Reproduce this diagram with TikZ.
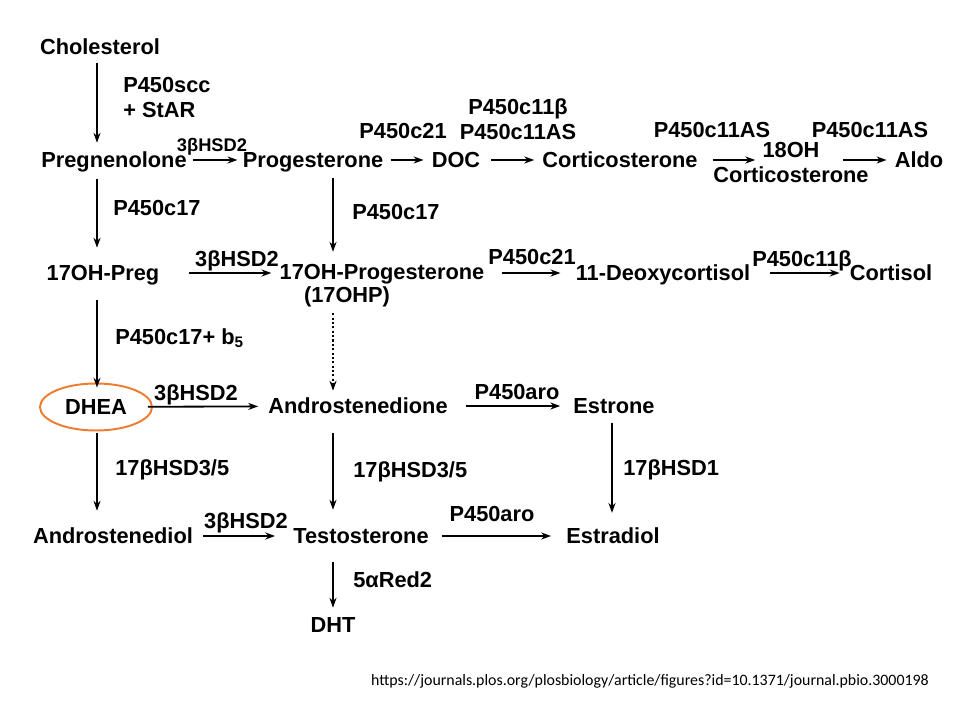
\documentclass[tikz,border=0pt]{standalone}
\usepackage{fontspec}
\setmainfont{Liberation Sans}
\newfontfamily\urlfont{Carlito}
\usetikzlibrary{arrows.meta,shapes.geometric}
\definecolor{ringorange}{RGB}{237,125,49}

\begin{document}
\begin{tikzpicture}[x=0.025cm, y=-0.025cm, >={Stealth[length=7pt,width=5pt]},
  every node/.style={inner sep=0pt, text height=12.2pt, text depth=2pt, font=\bfseries\fontsize{15.5}{18.5}\selectfont},
  lab/.style={anchor=west},
  rx/.style={->, line width=1.3pt},
  dotrx/.style={->, line width=1.5pt, dash pattern=on 1.5pt off 1.6pt},
  ring/.style={ellipse, draw=ringorange, line width=1.4pt, minimum width=2.8cm, minimum height=1.175cm}]
  \useasboundingbox (0,0) rectangle (960,720);
  \coordinate (c1) at (97,0); \coordinate (c2) at (333,0); \coordinate (c3) at (612,0);
  % steroids
  \node (chol) at (100,47) {Cholesterol};
  \node (preg) at (114,160) {Pregnenolone}; \node (prog) at (313,160) {Progesterone};
  \node (doc) at (456,160) {DOC}; \node (cort) at (620,160) {Corticosterone};
  \node (oh18a) at (791,150) {18OH}; \node (oh18b) at (791,175) {Corticosterone};
  \node (aldo) at (919,160) {Aldo};
  \node (ohpreg) at (103,273) {17OH-Preg}; \node (ohprog) at (382,272) {17OH-Progesterone};
  \node (ohpb) at (347,295) {(17OHP)};
  \node (deoxy) at (663,273) {11-Deoxycortisol}; \node (cortisol) at (891,273) {Cortisol};
  \node[ring] (dhea) at (96,407) {DHEA}; \node (andro) at (358,406) {Androstenedione};
  \node (estrone) at (614,406) {Estrone};
  \node (adiol) at (113,536) {Androstenediol}; \node (testo) at (361,536) {Testosterone};
  \node (estradiol) at (613,536) {Estradiol};
  \node (dht) at (333,625) {DHT};
  % enzymes
  \node[lab] (e1a) at (123,85) {P450scc}; \node[lab] (e1b) at (123,110) {+ StAR};
  \node[font=\bfseries\fontsize{13}{15}\selectfont] (e2) at (212,144) {3βHSD2};
  \node (e3) at (403,131) {P450c21};
  \node (e4a) at (518,107) {P450c11β}; \node (e4b) at (518,132) {P450c11AS};
  \node (e5) at (712,130) {P450c11AS}; \node (e6) at (870,130) {P450c11AS};
  \node[lab] (e7) at (113,208) {P450c17}; \node[lab] (e8) at (352,212) {P450c17};
  \node (e9) at (237,259) {3βHSD2}; \node (e10) at (532,257) {P450c21};
  \node (e11) at (802,259) {P450c11β};
  \node[lab] (e12) at (115,337) {P450c17+ b\textsubscript{5}};
  \node (e13) at (196,393) {3βHSD2}; \node (e14) at (517,392) {P450aro};
  \node[lab] (e15) at (115,468) {17βHSD3/5}; \node[lab] (e16) at (353,470) {17βHSD3/5};
  \node[lab] (e17) at (623,468) {17βHSD1};
  \node (e18) at (246,521) {3βHSD2}; \node (e19) at (492,514) {P450aro};
  \node[lab] (e20) at (353,580) {5αRed2};
  \node[font=\urlfont\fontsize{11.3}{13}\selectfont] (src) at (650,678) {https://journals.plos.org/plosbiology/article/figures?id=10.1371/journal.pbio.3000198};
  % reactions
  \draw[rx, shorten <=4.3pt, shorten >=5pt] (chol.south -| c1) -- (preg.north -| c1);
  \draw[rx, shorten <=4.3pt, shorten >=3.6pt] (preg) -- (prog);
  \draw[rx, shorten <=5pt, shorten >=5.7pt] (prog) -- (doc);
  \draw[rx, shorten <=7.8pt, shorten >=5.7pt] (doc) -- (cort);
  \draw[rx, shorten <=10.7pt, shorten >=5pt] (cort.east) -- (cort.east -| oh18a.west);
  \draw[rx, shorten <=16.4pt, shorten >=5.7pt] (oh18a.east |- aldo.west) -- (aldo.west);
  \draw[rx, shorten <=6.4pt, shorten >=10.7pt] (preg.south -| c1) -- (ohpreg.north -| c1);
  \draw[rx, shorten <=5.7pt, shorten >=7.1pt] (prog.south -| c2) -- (ohprog.north -| c2);
  \draw[rx, shorten <=20.6pt, shorten >=5.7pt] (ohpreg) -- (ohpreg -| ohprog.west);
  \draw[rx, shorten <=12pt, shorten >=10.7pt] (ohprog.east |- deoxy) -- (deoxy);
  \draw[rx, shorten <=14.2pt, shorten >=7.1pt] (deoxy) -- (cortisol);
  \draw[rx, shorten <=12pt, shorten >=-3.6pt] (ohpreg.south -| c1) -- (dhea.north -| c1);
  \draw[dotrx, shorten <=5.7pt, shorten >=3.6pt] (ohpb.south -| c2) -- (andro.north -| c2);
  \draw[rx, shorten <=-3.6pt, shorten >=7.1pt] (dhea) -- (andro);
  \draw[rx, shorten <=12.8pt, shorten >=9.2pt] (andro) -- (estrone);
  \draw[rx, shorten <=1.4pt, shorten >=10.7pt] (dhea.south -| c1) -- (adiol.north -| c1);
  \draw[rx, shorten <=12pt, shorten >=11.4pt] (andro.south -| c2) -- (testo.north -| c2);
  \draw[rx, shorten <=5pt, shorten >=9.2pt] (estrone.south -| c3) -- (estradiol.north -| c3);
  \draw[rx, shorten <=7.1pt, shorten >=12.8pt] (adiol) -- (testo);
  \draw[rx, shorten <=9.2pt, shorten >=10.7pt] (testo) -- (estradiol);
  \draw[rx, shorten <=11.4pt, shorten >=5pt] (testo.south -| c2) -- (dht.north -| c2);
\end{tikzpicture}
\end{document}
